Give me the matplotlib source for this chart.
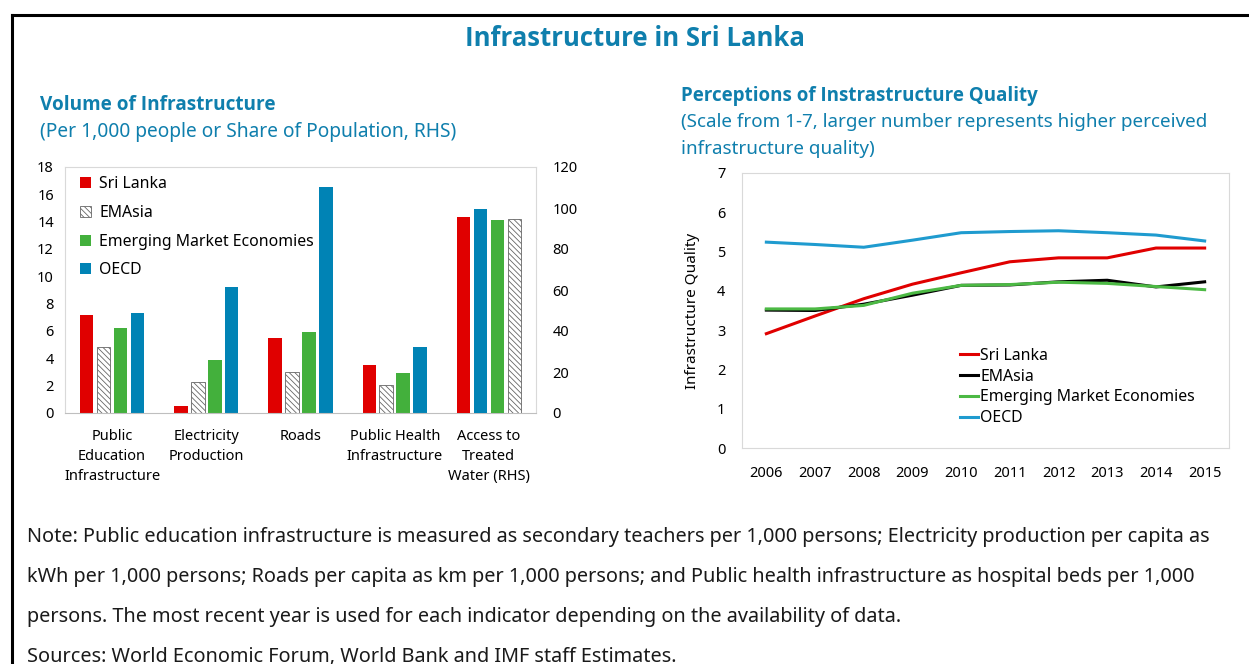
import numpy as np
import matplotlib.pyplot as plt
from matplotlib.lines import Line2D

plt.rcParams['font.family'] = ['Noto Sans', 'DejaVu Sans']
plt.rcParams['hatch.linewidth'] = 0.6

# bar chart data (left panel)
categories = ["Public\nEducation\nInfrastructure", "Electricity\nProduction", "Roads",
              "Public Health\nInfrastructure", "Access to\nTreated\nWater (RHS)"]
sri_lanka = [7.17, 0.54, 5.51, 3.54]
emasia = [4.83, 2.27, 3.0, 2.07]
eme = [6.2, 3.85, 5.93, 2.93]
oecd = [7.32, 9.24, 16.54, 4.83]
# access to treated water, share of population (RHS)
water_labels = ["Sri Lanka", "OECD", "Emerging Market Economies", "EMAsia"]
water_values = [95.4, 99.5, 94.1, 94.6]

# line chart data (right panel)
years = [2006, 2007, 2008, 2009, 2010, 2011, 2012, 2013, 2014, 2015]
q_sri_lanka = [2.91, 3.36, 3.80, 4.17, 4.46, 4.74, 4.84, 4.84, 5.09, 5.09]
q_emasia = [3.51, 3.50, 3.66, 3.89, 4.14, 4.15, 4.23, 4.27, 4.10, 4.23]
q_eme = [3.54, 3.54, 3.63, 3.94, 4.14, 4.16, 4.22, 4.19, 4.11, 4.03]
q_oecd = [5.24, 5.18, 5.11, 5.29, 5.48, 5.51, 5.53, 5.48, 5.42, 5.27]

RED = "#e00000"
BLUE = "#0083b5"
GREEN = "#43b03c"
TITLE = "#0f7fad"
GRID = "#d9d9d9"
BOLD = ['Open Sans', 'Lato', 'DejaVu Sans']

W, H = 1249, 664
fig = plt.figure(figsize=(W / 100, H / 100), dpi=100)

# frame around the figure (left and top edges)
fig.add_artist(Line2D([12 / W, 12 / W], [0, 1 - 15 / H], color="black", lw=2.2))
fig.add_artist(Line2D([12 / W, 1], [1 - 15 / H, 1 - 15 / H], color="black", lw=2.2))

fig.text(635 / W, 1 - 39 / H, "Infrastructure in Sri Lanka", color=TITLE, fontsize=18.5,
         fontweight="bold", family=BOLD, ha="center", va="center")
fig.text(40 / W, 1 - 105 / H, "Volume of Infrastructure", color=TITLE, fontsize=13.7,
         fontweight="bold", family=BOLD, va="center")
fig.text(40 / W, 1 - 132 / H, "(Per 1,000 people or Share of Population, RHS)", color=TITLE,
         fontsize=13.8, va="center")
fig.text(681 / W, 1 - 96 / H, "Perceptions of Instrastructure Quality", color=TITLE, fontsize=13.5,
         fontweight="bold", family=BOLD, va="center")
fig.text(681 / W, 1 - 122 / H, "(Scale from 1-7, larger number represents higher perceived",
         color=TITLE, fontsize=13.55, va="center")
fig.text(681 / W, 1 - 149 / H, "infrastructure quality)", color=TITLE, fontsize=13.55, va="center")

notes = ["Note: Public education infrastructure is measured as secondary teachers per 1,000 persons; Electricity production per capita as",
         "kWh per 1,000 persons; Roads per capita as km per 1,000 persons; and Public health infrastructure as hospital beds per 1,000",
         "persons. The most recent year is used for each indicator depending on the availability of data.",
         "Sources: World Economic Forum, World Bank and IMF staff Estimates."]
for i, line in enumerate(notes):
    fig.text(27 / W, 1 - (537 + 40 * i) / H, line, fontsize=14.3, color="#1a1a1a", va="center")

# ---- left panel: bars ----
ax = fig.add_axes([65 / W, 1 - 413 / H, (536 - 65) / W, (413 - 167) / H])
x = np.arange(4)
bw = 0.143
step = 0.18
offs = np.array([-1.5, -0.5, 0.5, 1.5]) * step
ax.bar(x + offs[0], sri_lanka, bw, color=RED, label="Sri Lanka")
ax.bar(x + offs[1], emasia, bw, color="white", edgecolor="#666666", hatch="\\\\\\\\\\\\",
       linewidth=0.6, label="EMAsia")
ax.bar(x + offs[2], eme, bw, color=GREEN, label="Emerging Market Economies")
ax.bar(x + offs[3], oecd, bw, color=BLUE, label="OECD")
ax.set_xlim(-0.5, 4.5)
ax.set_ylim(0, 18)
ax.set_yticks(range(0, 19, 2))
ax.set_xticks(range(5))
ax.set_xticklabels(categories, fontsize=10.2, linespacing=1.45)
ax.tick_params(length=0, labelsize=10.5, pad=8)
ax.tick_params(axis="x", pad=11.5)
for s in ax.spines.values():
    s.set_color(GRID)
ax.spines["bottom"].set_color("#bfbfbf")

ax2 = ax.twinx()
wcolors = [RED, BLUE, GREEN, "white"]
for i, (lab, v) in enumerate(zip(water_labels, water_values)):
    if lab == "EMAsia":
        ax2.bar(4 + offs[i], v, bw, color="white", edgecolor="#666666", hatch="\\\\\\\\\\\\",
                linewidth=0.6)
    else:
        ax2.bar(4 + offs[i], v, bw, color=wcolors[i])
ax2.set_ylim(0, 120)
ax2.set_yticks(range(0, 121, 20))
ax2.tick_params(length=0, labelsize=10.5, pad=12)
for s in ax2.spines.values():
    s.set_visible(False)

ax.legend(loc="upper left", frameon=False, fontsize=11.4, handlelength=0.7,
          handleheight=0.7, handletextpad=0.5, labelspacing=0.8, borderpad=0,
          borderaxespad=0, bbox_to_anchor=(0.032, 0.962))

# ---- right panel: lines ----
bx = fig.add_axes([742 / W, 1 - 448 / H, (1229 - 742) / W, (448 - 173) / H])
bx.plot(years, q_sri_lanka, color=RED, lw=2.2, label="Sri Lanka")
bx.plot(years, q_emasia, color="black", lw=2.2, label="EMAsia")
bx.plot(years, q_eme, color="#4cb944", lw=2.2, label="Emerging Market Economies")
bx.plot(years, q_oecd, color="#1f9bcf", lw=2.2, label="OECD")
bx.set_xlim(2005.5, 2015.5)
bx.set_ylim(0, 7)
bx.set_xticks(years)
bx.set_yticks(range(0, 8))
bx.tick_params(length=0, labelsize=10.5, pad=13)
bx.tick_params(axis="y", pad=12)
bx.set_ylabel("Infrastructure Quality", fontsize=11)
bx.yaxis.set_label_coords(-0.086, 0.5)
for s in bx.spines.values():
    s.set_color(GRID)
bx.legend(loc="upper left", bbox_to_anchor=(0.448, 0.364), frameon=False, fontsize=11.4,
          handlelength=1.15, handletextpad=0.12, labelspacing=0.3, borderpad=0,
          borderaxespad=0)

fig.savefig("out.png", dpi=100)
